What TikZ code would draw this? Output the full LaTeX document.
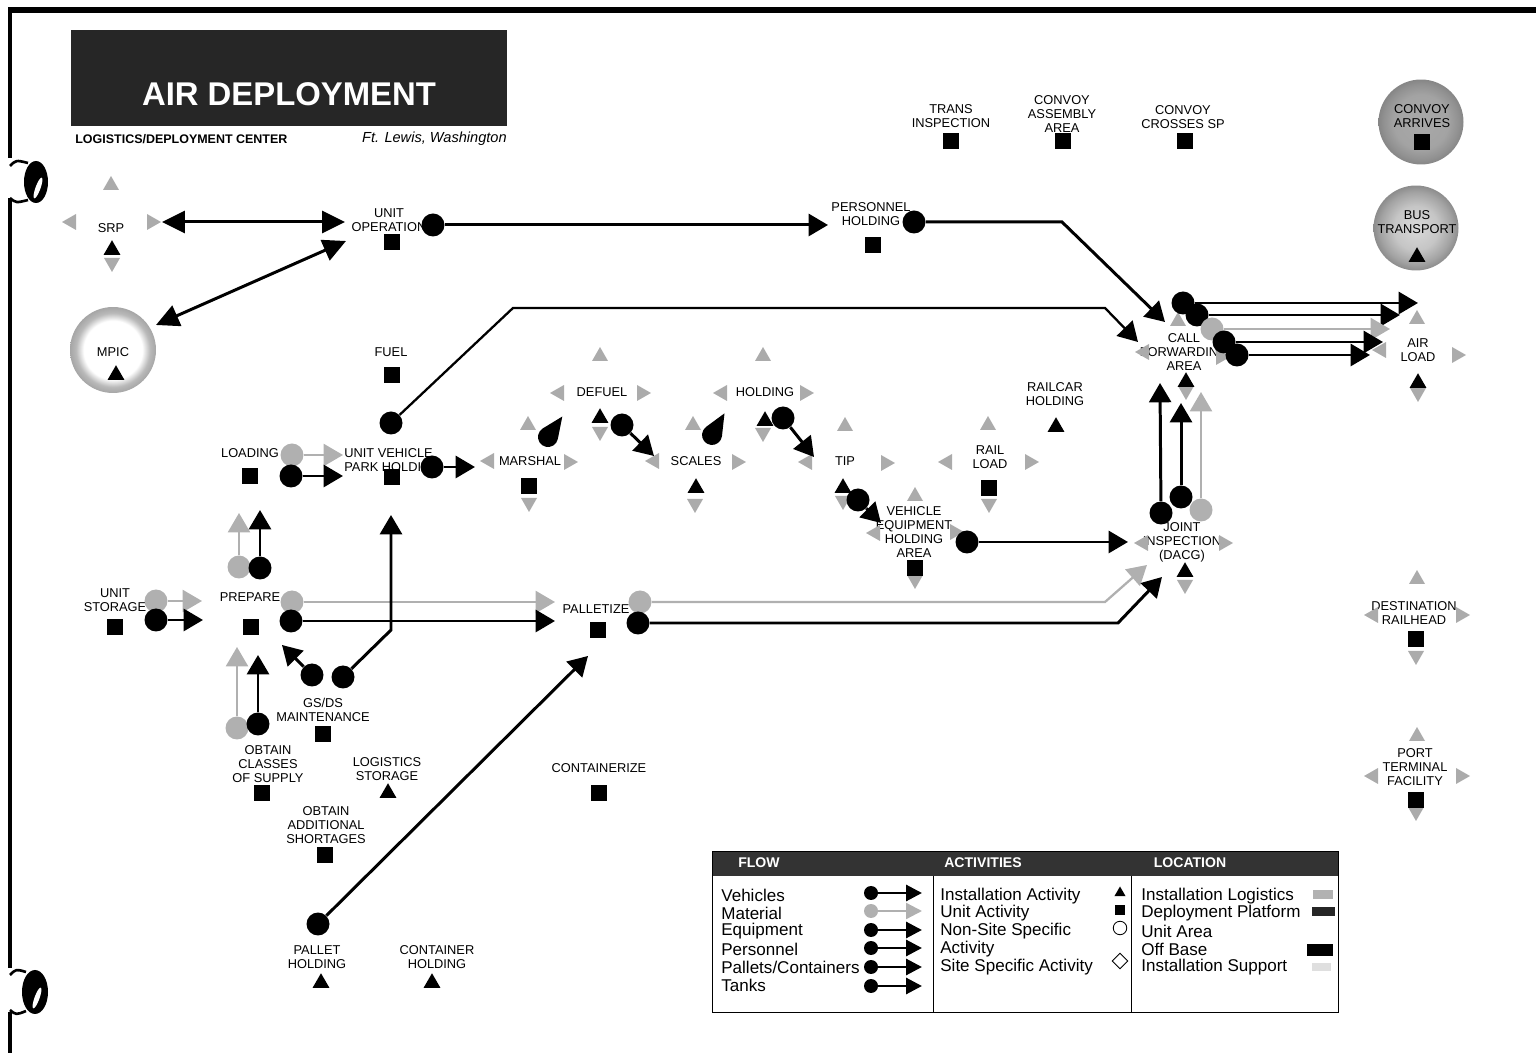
\documentclass[tikz,border=0pt]{standalone}
\usepackage{fontspec}
\setmainfont{Liberation Sans}
\usetikzlibrary{arrows.meta,shapes.geometric}
\pgfdeclareradialshading{mpicring}{\pgfpoint{0bp}{0bp}}{color(0bp)=(white); color(17bp)=(white); color(21.5bp)=(gray!55); color(25bp)=(gray!70); color(50bp)=(gray!70)}
\pgfdeclareradialshading{busring}{\pgfpoint{0bp}{0bp}}{color(0bp)=(gray!30); color(13bp)=(gray!45); color(21bp)=(gray!72); color(25bp)=(gray!90); color(50bp)=(gray!90)}
\pgfdeclareradialshading{convoyring}{\pgfpoint{0bp}{0bp}}{color(0bp)=(gray!68); color(16bp)=(gray!72); color(22bp)=(gray!86); color(25bp)=(gray!95); color(50bp)=(gray!95)}
\newcommand\gpc[3]{\fill[gray!66,shift={(#1,#2)},rotate=#3] (8,0) -- (-6,-8) -- (-6,8) -- cycle;}
\newcommand\tdrop[2]{\fill[shift={(#1)},rotate=#2] (0,-25) -- (9.2,-4) -- (-9.2,-4) -- cycle (0,0) circle (10);}
\tikzset{
  lbl/.style={font=\fontsize{7.3}{7.9}\selectfont, align=center, inner sep=0pt},
  usq/.style={rectangle, fill=black, minimum size=0.32cm, inner sep=0pt},
  itri/.style={regular polygon, regular polygon sides=3, fill=black, minimum size=0.39cm, inner sep=0pt},
  bdot/.style={circle, fill=black, minimum size=0.46cm, inner sep=0pt},
  gdot/.style={circle, fill=gray!62, minimum size=0.46cm, inner sep=0pt},
  flow/.style={line width=1.7pt, -{Triangle[length=11pt,width=12.5pt]}},
  thinflow/.style={line width=1.3pt, -{Triangle[length=11pt,width=12.5pt]}},
  gflow/.style={draw=gray!62, line width=1.3pt, -{Triangle[length=11pt,width=12.5pt]}},
  dflow/.style={line width=1.7pt, {Triangle[length=13pt,width=12.5pt]}-{Triangle[length=13pt,width=12.5pt]}},
  lgt/.style={font=\fontsize{9.7}{10}\selectfont, anchor=west, inner sep=0pt},
  lhd/.style={font=\bfseries\fontsize{8}{9}\selectfont, text=white, inner sep=0pt},
  ldot/.style={circle, fill=black, minimum size=0.28cm, inner sep=0pt},
  lgdot/.style={circle, fill=gray!62, minimum size=0.28cm, inner sep=0pt},
  lflow/.style={line width=1.7pt, -{Triangle[length=9pt,width=9pt]}},
  lgflow/.style={draw=gray!62, line width=1.3pt, -{Triangle[length=9pt,width=9pt]}}
}
\begin{document}
\begin{tikzpicture}[x=0.02cm,y=-0.02cm]
\useasboundingbox (0,0) rectangle (1536,1053);
% page frame
\fill (8,7) rectangle (1536,13);
\fill (8,7) rectangle (12,158);
\fill (8,198) rectangle (12,968);
\fill (8,1012) rectangle (12,1053);
\fill (36,182) ellipse (12 and 21);
\fill[white, rotate around={-20:(38,188)}] (38,188) ellipse (2.5 and 11);
\draw[line width=1.5pt] (10,166) .. controls (16,160) .. (28,163);
\draw[line width=1.5pt] (10,198) .. controls (16,203) .. (28,200);
\fill (35,992) ellipse (13 and 22);
\fill[white, rotate around={-20:(37,998)}] (37,998) ellipse (2.5 and 11);
\draw[line width=1.5pt] (10,975) .. controls (16,969) .. (26,972);
\draw[line width=1.5pt] (10,1010) .. controls (16,1015) .. (26,1011);

% title block
\node[rectangle, fill=black!85, minimum width=8.72cm, minimum height=1.92cm, inner sep=0pt] (titlebox) at (289,78) {};
\node[font=\bfseries\fontsize{18.7}{20}\selectfont, text=white, inner sep=0pt] (title) at (289,94) {AIR DEPLOYMENT};
\node[font=\bfseries\fontsize{7.1}{8}\selectfont, anchor=west, inner sep=0pt] (sub) at (75,139) {LOGISTICS/DEPLOYMENT CENTER};
\node[font=\itshape\fontsize{8.3}{9}\selectfont, anchor=east, inner sep=0pt] (place) at (507,139) {Ft. Lewis, Washington};

% installation logistics / off-base circles
\node[circle, shading=mpicring, minimum size=1.72cm, inner sep=0pt] (mpicbg) at (113,350) {};
\node[circle, shading=convoyring, minimum size=1.70cm, inner sep=0pt] (carrbg) at (1421,122) {};
\node[circle, shading=busring, minimum size=1.70cm, inner sep=0pt] (busbg) at (1416,228) {};

% labels
\node[lbl] (l-srp) at (111,228) {SRP};
\node[lbl] (l-uo) at (389,220) {UNIT\\OPERATION};
\node[lbl] (l-mpic) at (113,352) {MPIC};
\node[lbl] (l-ph) at (871,214) {PERSONNEL\\HOLDING};
\node[lbl] (l-trans) at (951,116) {TRANS\\INSPECTION};
\node[lbl] (l-cassy) at (1062,114) {CONVOY\\ASSEMBLY\\AREA};
\node[lbl] (l-ccross) at (1183,117) {CONVOY\\CROSSES SP};
\node[lbl] (l-carr) at (1422,116) {CONVOY\\ARRIVES};
\node[lbl] (l-bus) at (1417,222) {BUS\\TRANSPORT};
\node[lbl] (l-cfa) at (1184,352) {CALL\\FORWARDING\\AREA};
\node[lbl] (l-air) at (1418,350) {AIR\\LOAD};
\node[lbl] (l-fuel) at (391,352) {FUEL};
\node[lbl] (l-load) at (250,453) {LOADING};
\node[lbl, anchor=west, align=left] (l-uvph) at (344,460) {UNIT VEHICLE\\PARK HOLDING};
\node[lbl] (l-marsh) at (530,461) {MARSHAL};
\node[lbl] (l-defuel) at (602,392) {DEFUEL};
\node[lbl] (l-scales) at (696,461) {SCALES};
\node[lbl] (l-hold) at (765,392) {HOLDING};
\node[lbl] (l-tip) at (845,461) {TIP};
\node[lbl] (l-rail) at (990,457) {RAIL\\LOAD};
\node[lbl] (l-railcar) at (1055,394) {RAILCAR\\HOLDING};
\node[lbl] (l-veh) at (914,532) {VEHICLE\\EQUIPMENT\\HOLDING\\AREA};
\node[lbl] (l-joint) at (1182,542) {JOINT\\INSPECTION\\(DACG)};
\node[lbl] (l-ustor) at (115,600) {UNIT\\STORAGE};
\node[lbl] (l-prep) at (250,597) {PREPARE};
\node[lbl] (l-gsds) at (323,710) {GS/DS\\MAINTENANCE};
\node[lbl] (l-ocs) at (268,764) {OBTAIN\\CLASSES\\OF SUPPLY};
\node[lbl] (l-logst) at (387,769) {LOGISTICS\\STORAGE};
\node[lbl] (l-oas) at (326,825) {OBTAIN\\ADDITIONAL\\SHORTAGES};
\node[lbl] (l-cont) at (599,768) {CONTAINERIZE};
\node[lbl] (l-pal) at (596,609) {PALLETIZE};
\node[lbl] (l-palh) at (317,957) {PALLET\\HOLDING};
\node[lbl] (l-conth) at (437,957) {CONTAINER\\HOLDING};
\node[lbl] (l-dest) at (1414,613) {DESTINATION\\RAILHEAD};
\node[lbl] (l-port) at (1415,767) {PORT\\TERMINAL\\FACILITY};

% site-specific corner pieces
\gpc{111}{184}{90}\gpc{70}{222}{180}\gpc{153}{222}{0}\gpc{112}{264}{270}
\gpc{1178}{320}{90}\gpc{1143}{352}{180}\gpc{1222}{357}{0}\gpc{1186}{392}{270}
\gpc{1417}{318}{90}\gpc{1380}{350}{180}\gpc{1458}{355}{0}\gpc{1418}{394}{270}
\gpc{488}{461}{180}\gpc{570}{462}{0}\gpc{528}{424}{90}\gpc{529}{504}{270}
\gpc{558}{393}{180}\gpc{643}{393}{0}\gpc{600}{355}{90}\gpc{600}{433}{270}
\gpc{653}{461}{180}\gpc{738}{462}{0}\gpc{693}{424}{90}\gpc{695}{505}{270}
\gpc{721}{393}{180}\gpc{806}{393}{0}\gpc{763}{355}{90}\gpc{763}{434}{270}
\gpc{806}{462}{180}\gpc{887}{463}{0}\gpc{845}{425}{90}\gpc{843}{502}{270}
\gpc{946}{462}{180}\gpc{1031}{462}{0}\gpc{988}{424}{90}\gpc{989}{505}{270}
\gpc{874}{533}{180}\gpc{956}{532}{0}\gpc{915}{495}{90}\gpc{915}{581}{270}
\gpc{1142}{543}{180}\gpc{1225}{543}{0}\gpc{1185}{586}{270}
\gpc{1417}{578}{90}\gpc{1372}{615}{180}\gpc{1462}{615}{0}\gpc{1416}{657}{270}
\gpc{1417}{735}{90}\gpc{1372}{776}{180}\gpc{1462}{776}{0}\gpc{1416}{813}{270}

% activity markers
\foreach \n/\p in {uo/{392,242}, ph/{873,245}, trans/{951,141}, cassy/{1063,141}, ccross/{1185,141}, carr/{1422,142}, fuel/{392,375}, load/{250,476}, uvph/{392,477}, marsh/{529,486}, rail/{989,488}, veh/{915,568}, ustor/{115,627}, prep/{251,627}, gsds/{323,734}, ocs/{262,793}, oas/{325,855}, cont/{599,793}, pal/{598,630}, dest/{1416,639}, port/{1416,800}}
  \node[usq] (m-\n) at (\p) {};
\foreach \n/\p in {srp/{112,250}, mpic/{116,375}, bus/{1417,257}, cfa/{1186,382}, air/{1418,383}, defuel/{600,418}, scales/{696,488}, hold/{765,421}, tip/{843,488}, railcar/{1056,427}, joint/{1185,572}, logst/{388,793}, palh/{321,983}, conth/{432,983}}
  \node[itri] (m-\n) at (\p) {};

% tank drops
\tdrop{548,437}{-35}
\tdrop{712,435}{-30}

% connector end points
\coordinate (srp-e) at (162,222);
\coordinate (uo-w) at (345,222);
\coordinate (mpic-ne) at (156,325);
\coordinate (uo-sw) at (346,241);
\coordinate (ph-w) at (828,225);
\coordinate (ph-bend) at (1062,222);
\coordinate (cfa-nw) at (1165,322);
\coordinate (uvph-b1) at (513,308);
\coordinate (uvph-b2) at (1105,308);
\coordinate (cfa-w) at (1138,342);
\coordinate (uvph-wg) at (343,455);
\coordinate (uvph-wb) at (343,476);
\coordinate (marsh-w) at (475,467);
\coordinate (prep-wg) at (202,601);
\coordinate (prep-wb) at (203,620);
\coordinate (load-sg) at (239,513);
\coordinate (load-sb) at (260,510);
\coordinate (pal-wg) at (555,602);
\coordinate (pal-wb) at (555,621);
\coordinate (prep-se) at (282,645);
\coordinate (gs-bend) at (391,630);
\coordinate (uvph-s) at (391,515);
\coordinate (prep-sg) at (237,647);
\coordinate (prep-sb) at (258,655);
\coordinate (pal-bg) at (1105,602);
\coordinate (joint-swg) at (1147,565);
\coordinate (pal-bb) at (1118,623);
\coordinate (joint-swb) at (1162,577);
\coordinate (pal-sw) at (588,656);
\coordinate (scales-nw) at (654,456);
\coordinate (tip-nw) at (814,457);
\coordinate (veh-nw) at (881,523);
\coordinate (joint-w) at (1128,542);
\coordinate (cfa-s1) at (1160,383);
\coordinate (cfa-s2) at (1181,403);
\coordinate (cfa-s3) at (1201,392);
\coordinate (air-w1) at (1418,303);
\coordinate (air-w2) at (1400,315);
\coordinate (air-w3) at (1390,329);
\coordinate (air-w4) at (1383,342);
\coordinate (air-w5) at (1370,355);

% flow dots
\node[bdot] (uo-c) at (433,225) {};
\node[bdot] (ph-c) at (914,222) {};
\node[bdot] (uvph-c1) at (391,423) {};
\node[bdot] (uvph-c2) at (432,467) {};
\node[gdot] (load-g) at (292,455) {};
\node[bdot] (load-b) at (291,476) {};
\node[gdot] (ustor-g) at (156,601) {};
\node[bdot] (ustor-b) at (156,620) {};
\node[gdot] (prep-ug) at (239,567) {};
\node[bdot] (prep-ub) at (260,568) {};
\node[gdot] (prep-rg) at (292,602) {};
\node[bdot] (prep-rb) at (291,621) {};
\node[bdot] (gs-1) at (312,675) {};
\node[bdot] (gs-2) at (343,677) {};
\node[gdot] (ocs-g) at (237,728) {};
\node[bdot] (ocs-b) at (258,724) {};
\node[gdot] (pal-g) at (640,602) {};
\node[bdot] (pal-b) at (638,623) {};
\node[bdot] (palh-c) at (318,924) {};
\node[bdot] (defuel-c) at (622,425) {};
\node[bdot] (hold-c) at (783,418) {};
\node[bdot] (tip-c) at (858,500) {};
\node[bdot] (veh-c) at (967,542) {};
\node[bdot] (joint-b1) at (1161,513) {};
\node[bdot] (joint-b2) at (1181,497) {};
\node[gdot] (joint-g) at (1201,510) {};
\node[bdot] (cfa-1) at (1183,303) {};
\node[bdot] (cfa-2) at (1197,315) {};
\node[gdot] (cfa-3) at (1212,329) {};
\node[bdot] (cfa-4) at (1224,342) {};
\node[bdot] (cfa-5) at (1237,355) {};

% connectors
\draw[dflow] (srp-e) -- (uo-w);
\draw[dflow] (mpic-ne) -- (uo-sw);
\draw[flow] (uo-c) -- (ph-w);
\draw[flow] (ph-c) -- (ph-bend) -- (cfa-nw);
\draw[thinflow] (uvph-c1) -- (uvph-b1) -- (uvph-b2) -- (cfa-w);
\draw[gflow] (load-g) -- (uvph-wg);
\draw[flow] (load-b) -- (uvph-wb);
\draw[flow] (uvph-c2) -- (marsh-w);
\draw[gflow] (ustor-g) -- (prep-wg);
\draw[flow] (ustor-b) -- (prep-wb);
\draw[gflow] (prep-ug) -- (load-sg);
\draw[flow] (prep-ub) -- (load-sb);
\draw[gflow] (prep-rg) -- (pal-wg);
\draw[flow] (prep-rb) -- (pal-wb);
\draw[flow] (gs-1) -- (prep-se);
\draw[flow] (gs-2) -- (gs-bend) -- (uvph-s);
\draw[gflow] (ocs-g) -- (prep-sg);
\draw[flow] (ocs-b) -- (prep-sb);
\draw[gflow] (pal-g) -- (pal-bg) -- (joint-swg);
\draw[flow] (pal-b) -- (pal-bb) -- (joint-swb);
\draw[flow] (palh-c) -- (pal-sw);
\draw[flow] (defuel-c) -- (scales-nw);
\draw[flow] (hold-c) -- (tip-nw);
\draw[flow] (tip-c) -- (veh-nw);
\draw[flow] (veh-c) -- (joint-w);
\draw[flow] (joint-b1) -- (cfa-s1);
\draw[flow] (joint-b2) -- (cfa-s2);
\draw[gflow] (joint-g) -- (cfa-s3);
\draw[flow] (cfa-1) -- (air-w1);
\draw[flow] (cfa-2) -- (air-w2);
\draw[gflow] (cfa-3) -- (air-w3);
\draw[flow] (cfa-4) -- (air-w4);
\draw[flow] (cfa-5) -- (air-w5);

% legend
\fill[black!80] (712,851) rectangle (1338,876);
\draw[line width=0.5pt] (712,851) rectangle (1338,1012);
\draw[line width=0.5pt] (933,876) -- (933,1012);
\draw[line width=0.5pt] (1131,876) -- (1131,1012);
\node[lhd] (h-flow) at (759,863) {FLOW};
\node[lhd] (h-act) at (983,863) {ACTIVITIES};
\node[lhd] (h-loc) at (1190,863) {LOCATION};

\node[lgt] (f1) at (721,895) {Vehicles};
\node[lgt] (f2) at (721,913) {Material};
\node[lgt] (f3) at (721,931) {Equipment};
\node[lgt] (f4) at (721,949) {Personnel};
\node[lgt] (f5) at (721,967) {Pallets/Containers};
\node[lgt] (f6) at (721,985) {Tanks};
\foreach \i/\y in {1/893, 3/930, 4/948, 5/967, 6/986} {
  \node[ldot] (fd\i) at (871,\y) {};
  \coordinate (fe\i) at (922,\y);
  \draw[lflow] (fd\i) -- (fe\i);
}
\node[lgdot] (fd2) at (871,911) {};
\coordinate (fe2) at (922,911);
\draw[lgflow] (fd2) -- (fe2);

\node[lgt] (a1) at (940,896) {Installation Activity};
\node[lgt] (a2) at (940,913) {Unit Activity};
\node[lgt] (a3) at (940,931) {Non-Site Specific};
\node[lgt] (a4) at (940,949) {Activity};
\node[lgt] (a5) at (940,967) {Site Specific Activity};
\node[itri, minimum size=0.26cm] (am1) at (1120,893) {};
\node[usq, minimum size=0.21cm] (am2) at (1120,910) {};
\node[circle, draw, minimum size=0.27cm, inner sep=0pt, line width=0.5pt] (am3) at (1120,928) {};
\node[diamond, draw, minimum size=0.32cm, inner sep=0pt, line width=0.5pt] (am4) at (1120,961) {};

\node[lgt] (o1) at (1141,896) {Installation Logistics};
\node[lgt] (o2) at (1141,913) {Deployment Platform};
\node[lgt] (o3) at (1141,931) {Unit Area};
\node[lgt] (o4) at (1141,949) {Off Base};
\node[lgt] (o5) at (1141,967) {Installation Support};
\node[rectangle, fill=gray!60, minimum width=0.40cm, minimum height=0.18cm, inner sep=0pt] (sw1) at (1323,895) {};
\node[rectangle, fill=black!85, minimum width=0.46cm, minimum height=0.18cm, inner sep=0pt] (sw2) at (1323,912) {};
\node[rectangle, fill=black, minimum width=0.52cm, minimum height=0.26cm, inner sep=0pt] (sw4) at (1320,950) {};
\node[rectangle, fill=gray!25, minimum width=0.38cm, minimum height=0.18cm, inner sep=0pt] (sw5) at (1321,967) {};
\end{tikzpicture}
\end{document}
